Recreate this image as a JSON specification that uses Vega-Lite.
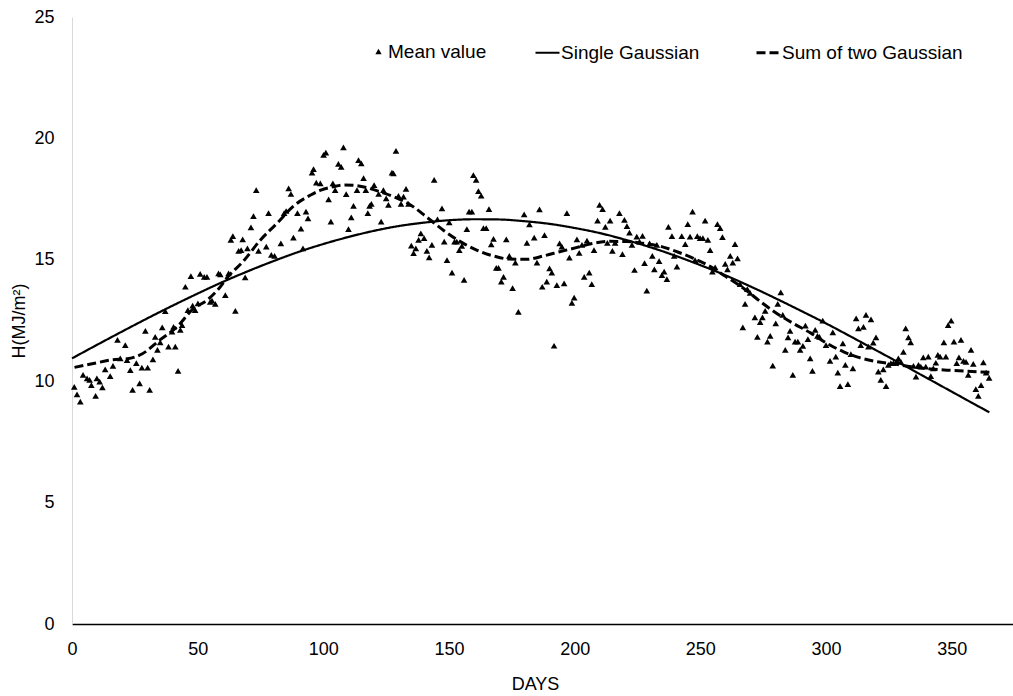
{
  "$schema": "https://vega.github.io/schema/vega-lite/v6.json",
  "width": 941,
  "height": 607,
  "autosize": {"type": "none"},
  "padding": {"left": 72, "top": 17, "right": 0, "bottom": 72},
  "background": "white",
  "config": {
    "view": {"stroke": null},
    "font": "Liberation Sans",
    "axis": {"grid": false, "ticks": false, "labelFont": "Liberation Sans", "labelFontSize": 18, "labelColor": "#000", "titleFont": "Liberation Sans", "titleFontSize": 18, "titleFontWeight": "normal", "titleColor": "#000", "labelFlush": false},
    "legend": {"labelFont": "Liberation Sans", "labelFontSize": 19, "labelColor": "#000", "padding": 0, "labelLimit": 0}
  },
  "datasets": {
    "points": [
      {"day":0.9,"H":9.77},{"day":2.0,"H":9.46},{"day":3.3,"H":9.16},{"day":4.4,"H":10.26},{"day":6.0,"H":10.12},{"day":7.0,"H":10.05},{"day":7.7,"H":9.84},{"day":9.4,"H":9.40},{"day":9.9,"H":10.12},{"day":11.0,"H":9.98},
      {"day":12.1,"H":9.75},{"day":13.2,"H":10.49},{"day":15.2,"H":10.21},{"day":16.3,"H":10.63},{"day":18.1,"H":11.70},{"day":19.2,"H":10.94},{"day":21.2,"H":11.49},{"day":21.9,"H":10.87},{"day":23.2,"H":10.46},{"day":24.1,"H":9.64},
      {"day":25.6,"H":10.74},{"day":26.9,"H":9.91},{"day":27.8,"H":10.56},{"day":29.2,"H":12.07},{"day":30.1,"H":10.56},{"day":30.9,"H":9.64},{"day":32.2,"H":10.90},{"day":33.1,"H":11.83},{"day":34.0,"H":11.29},{"day":35.1,"H":11.60},
      {"day":35.9,"H":12.22},{"day":37.1,"H":12.89},{"day":38.4,"H":11.42},{"day":39.8,"H":12.04},{"day":40.4,"H":12.24},{"day":41.1,"H":11.42},{"day":42.2,"H":10.43},{"day":43.1,"H":12.11},{"day":43.8,"H":12.31},{"day":45.1,"H":13.89},
      {"day":46.1,"H":12.93},{"day":47.3,"H":14.33},{"day":48.0,"H":13.11},{"day":49.0,"H":12.93},{"day":50.1,"H":13.21},{"day":51.0,"H":14.42},{"day":52.6,"H":14.30},{"day":53.7,"H":14.30},{"day":55.0,"H":13.27},{"day":57.0,"H":13.18},
      {"day":58.3,"H":14.44},{"day":55.7,"H":13.32},{"day":61.0,"H":13.55},{"day":65.0,"H":12.90},{"day":59.0,"H":14.40},{"day":62.3,"H":14.44},{"day":68.9,"H":14.28},{"day":63.2,"H":15.82},{"day":64.0,"H":15.98},{"day":67.9,"H":15.84},
      {"day":66.3,"H":15.37},{"day":67.3,"H":15.40},{"day":69.8,"H":15.47},{"day":71.2,"H":16.34},{"day":72.2,"H":16.80},{"day":73.3,"H":17.87},{"day":74.2,"H":15.37},{"day":77.3,"H":15.54},{"day":78.2,"H":16.92},{"day":79.3,"H":15.20},
      {"day":80.6,"H":15.16},{"day":83.1,"H":15.68},{"day":84.4,"H":16.92},{"day":85.2,"H":17.01},{"day":86.2,"H":17.94},{"day":87.1,"H":17.71},{"day":88.1,"H":15.91},{"day":89.7,"H":16.92},{"day":91.1,"H":16.28},{"day":91.9,"H":15.47},
      {"day":93.1,"H":16.98},{"day":93.9,"H":16.71},{"day":95.5,"H":18.59},{"day":96.1,"H":18.73},{"day":97.2,"H":18.18},{"day":98.8,"H":18.15},{"day":100.1,"H":19.32},{"day":101.0,"H":19.41},{"day":102.1,"H":17.49},{"day":103.0,"H":16.57},
      {"day":103.8,"H":18.15},{"day":104.7,"H":17.87},{"day":106.0,"H":18.95},{"day":107.1,"H":18.83},{"day":108.0,"H":19.63},{"day":109.1,"H":17.70},{"day":110.0,"H":16.26},{"day":111.1,"H":16.75},{"day":112.0,"H":17.22},{"day":113.4,"H":17.87},
      {"day":114.0,"H":19.11},{"day":115.1,"H":18.97},{"day":116.0,"H":18.36},{"day":116.9,"H":17.87},{"day":117.7,"H":16.92},{"day":118.4,"H":17.22},{"day":119.1,"H":17.30},{"day":120.2,"H":18.08},{"day":122.0,"H":17.71},{"day":123.0,"H":16.57},
      {"day":123.9,"H":17.87},{"day":125.0,"H":17.53},{"day":125.9,"H":17.26},{"day":127.3,"H":18.59},{"day":127.9,"H":18.56},{"day":128.9,"H":19.49},{"day":129.9,"H":17.63},{"day":130.9,"H":17.30},{"day":131.9,"H":17.60},{"day":132.9,"H":17.92},
      {"day":133.9,"H":17.30},{"day":135.0,"H":15.58},{"day":135.9,"H":15.27},{"day":136.8,"H":15.47},{"day":137.9,"H":15.82},{"day":138.8,"H":16.09},{"day":140.1,"H":15.89},{"day":141.2,"H":15.37},{"day":142.1,"H":15.10},{"day":143.2,"H":15.61},
      {"day":144.1,"H":18.29},{"day":145.4,"H":16.67},{"day":147.2,"H":17.12},{"day":148.1,"H":15.75},{"day":149.2,"H":14.99},{"day":150.1,"H":16.54},{"day":151.2,"H":14.47},{"day":152.2,"H":15.75},{"day":153.1,"H":15.75},{"day":154.1,"H":15.40},
      {"day":155.1,"H":15.57},{"day":156.0,"H":14.17},{"day":157.1,"H":16.26},{"day":158.0,"H":16.98},{"day":159.1,"H":16.98},{"day":159.7,"H":18.49},{"day":160.8,"H":18.29},{"day":161.7,"H":17.83},{"day":162.8,"H":17.64},{"day":163.7,"H":16.30},
      {"day":164.8,"H":16.30},{"day":165.9,"H":17.09},{"day":166.8,"H":15.64},{"day":167.7,"H":15.86},{"day":168.8,"H":14.67},{"day":169.7,"H":14.67},{"day":170.8,"H":14.10},{"day":171.7,"H":14.30},{"day":172.8,"H":15.84},{"day":174.0,"H":15.16},
      {"day":175.3,"H":13.83},{"day":176.4,"H":14.88},{"day":177.6,"H":12.86},{"day":179.9,"H":16.87},{"day":181.0,"H":15.70},{"day":182.0,"H":16.46},{"day":183.9,"H":15.91},{"day":185.0,"H":14.88},{"day":186.0,"H":17.08},{"day":187.1,"H":13.89},
      {"day":188.0,"H":16.02},{"day":188.9,"H":14.10},{"day":190.0,"H":14.65},{"day":190.9,"H":14.47},{"day":191.8,"H":11.46},{"day":192.9,"H":13.96},{"day":194.0,"H":15.68},{"day":194.9,"H":15.54},{"day":195.8,"H":14.03},{"day":196.9,"H":16.92},
      {"day":197.9,"H":15.09},{"day":198.9,"H":13.23},{"day":199.8,"H":13.44},{"day":200.9,"H":15.84},{"day":201.8,"H":15.29},{"day":202.9,"H":15.61},{"day":203.8,"H":14.30},{"day":204.9,"H":15.79},{"day":205.8,"H":14.47},{"day":206.8,"H":14.00},
      {"day":207.7,"H":15.40},{"day":209.1,"H":16.61},{"day":209.9,"H":17.26},{"day":211.1,"H":17.09},{"day":212.2,"H":16.36},{"day":213.0,"H":15.70},{"day":214.1,"H":16.61},{"day":215.0,"H":15.37},{"day":216.1,"H":15.70},{"day":217.8,"H":16.92},
      {"day":219.0,"H":15.23},{"day":219.8,"H":16.64},{"day":220.8,"H":16.39},{"day":221.8,"H":16.12},{"day":222.8,"H":15.61},{"day":223.8,"H":14.58},{"day":224.7,"H":15.95},{"day":225.8,"H":15.75},{"day":227.0,"H":15.99},{"day":227.8,"H":14.86},
      {"day":228.7,"H":13.73},{"day":229.8,"H":15.68},{"day":230.9,"H":15.16},{"day":231.7,"H":14.61},{"day":232.7,"H":15.61},{"day":233.6,"H":14.95},{"day":234.7,"H":14.37},{"day":235.6,"H":14.51},{"day":236.7,"H":14.20},{"day":237.3,"H":16.36},
      {"day":238.7,"H":15.98},{"day":239.6,"H":15.16},{"day":240.7,"H":14.72},{"day":242.6,"H":15.98},{"day":244.0,"H":15.65},{"day":245.0,"H":16.47},{"day":245.9,"H":15.95},{"day":246.9,"H":16.98},{"day":247.9,"H":14.99},{"day":248.8,"H":15.98},
      {"day":249.9,"H":15.89},{"day":251.0,"H":15.89},{"day":251.9,"H":16.61},{"day":253.0,"H":15.82},{"day":253.9,"H":15.40},{"day":254.8,"H":14.51},{"day":255.9,"H":14.69},{"day":256.8,"H":16.47},{"day":257.9,"H":16.30},{"day":258.8,"H":15.93},
      {"day":259.9,"H":14.83},{"day":260.8,"H":14.61},{"day":261.9,"H":15.16},{"day":262.9,"H":14.88},{"day":263.8,"H":15.65},{"day":264.8,"H":15.06},{"day":265.8,"H":14.00},{"day":266.9,"H":12.22},{"day":267.8,"H":13.18},{"day":268.7,"H":13.79},
      {"day":269.8,"H":13.64},{"day":271.7,"H":12.63},{"day":272.7,"H":11.83},{"day":273.8,"H":12.43},{"day":274.7,"H":12.63},{"day":275.8,"H":12.90},{"day":276.7,"H":11.63},{"day":277.8,"H":11.87},{"day":278.8,"H":10.64},{"day":280.0,"H":12.38},
      {"day":280.8,"H":13.18},{"day":282.0,"H":13.66},{"day":282.8,"H":12.73},{"day":283.8,"H":11.29},{"day":284.9,"H":11.81},{"day":285.7,"H":12.07},{"day":286.8,"H":10.26},{"day":287.7,"H":11.63},{"day":288.8,"H":11.63},{"day":289.7,"H":11.29},
      {"day":290.8,"H":11.45},{"day":291.8,"H":12.29},{"day":292.8,"H":11.73},{"day":293.7,"H":10.94},{"day":294.6,"H":10.43},{"day":295.7,"H":12.11},{"day":296.6,"H":11.87},{"day":297.4,"H":11.83},{"day":298.7,"H":12.49},{"day":300.0,"H":11.49},
      {"day":301.6,"H":10.84},{"day":302.7,"H":12.01},{"day":303.9,"H":11.01},{"day":304.7,"H":10.35},{"day":305.6,"H":9.80},{"day":306.7,"H":11.56},{"day":307.7,"H":10.67},{"day":308.7,"H":9.88},{"day":309.9,"H":11.12},{"day":310.7,"H":10.53},
      {"day":312.0,"H":12.59},{"day":312.9,"H":12.18},{"day":313.8,"H":11.49},{"day":314.9,"H":12.24},{"day":315.9,"H":12.73},{"day":316.9,"H":11.42},{"day":317.9,"H":12.55},{"day":318.8,"H":11.59},{"day":319.9,"H":11.81},{"day":320.8,"H":10.39},
      {"day":321.8,"H":10.05},{"day":322.8,"H":10.49},{"day":323.9,"H":9.80},{"day":324.8,"H":10.67},{"day":325.8,"H":10.74},{"day":326.8,"H":10.74},{"day":327.9,"H":10.80},{"day":328.8,"H":10.94},{"day":329.8,"H":10.80},{"day":330.8,"H":11.21},
      {"day":331.7,"H":12.18},{"day":332.8,"H":11.81},{"day":333.7,"H":11.60},{"day":334.8,"H":10.63},{"day":335.8,"H":10.19},{"day":336.8,"H":10.67},{"day":337.7,"H":10.60},{"day":338.7,"H":10.98},{"day":339.7,"H":10.60},{"day":340.7,"H":11.01},
      {"day":341.7,"H":10.21},{"day":342.7,"H":10.53},{"day":343.7,"H":10.76},{"day":344.5,"H":11.08},{"day":345.4,"H":11.01},{"day":346.9,"H":11.60},{"day":347.7,"H":11.01},{"day":348.6,"H":12.31},{"day":349.8,"H":12.49},{"day":350.9,"H":11.63},
      {"day":352.0,"H":10.74},{"day":352.9,"H":10.98},{"day":353.7,"H":11.70},{"day":354.7,"H":10.84},{"day":355.7,"H":10.80},{"day":356.6,"H":10.26},{"day":357.7,"H":11.29},{"day":358.6,"H":10.71},{"day":359.6,"H":9.67},{"day":360.6,"H":9.40},
      {"day":361.7,"H":9.84},{"day":362.6,"H":10.78},{"day":363.7,"H":10.35},{"day":364.9,"H":10.14}
    ],
    "curves": [
      {"series":"Single Gaussian","day":0,"H":10.94},{"series":"Single Gaussian","day":10,"H":11.50},{"series":"Single Gaussian","day":20,"H":12.05},{"series":"Single Gaussian","day":30,"H":12.59},{"series":"Single Gaussian","day":40,"H":13.11},{"series":"Single Gaussian","day":50,"H":13.61},{"series":"Single Gaussian","day":60,"H":14.09},{"series":"Single Gaussian","day":70,"H":14.53},{"series":"Single Gaussian","day":80,"H":14.94},{"series":"Single Gaussian","day":90,"H":15.32},
      {"series":"Single Gaussian","day":100,"H":15.65},{"series":"Single Gaussian","day":110,"H":15.94},{"series":"Single Gaussian","day":120,"H":16.19},{"series":"Single Gaussian","day":130,"H":16.39},{"series":"Single Gaussian","day":140,"H":16.53},{"series":"Single Gaussian","day":150,"H":16.63},{"series":"Single Gaussian","day":160,"H":16.67},{"series":"Single Gaussian","day":170,"H":16.66},{"series":"Single Gaussian","day":180,"H":16.59},{"series":"Single Gaussian","day":190,"H":16.48},
      {"series":"Single Gaussian","day":200,"H":16.31},{"series":"Single Gaussian","day":210,"H":16.10},{"series":"Single Gaussian","day":220,"H":15.83},{"series":"Single Gaussian","day":230,"H":15.52},{"series":"Single Gaussian","day":240,"H":15.17},{"series":"Single Gaussian","day":250,"H":14.78},{"series":"Single Gaussian","day":260,"H":14.36},{"series":"Single Gaussian","day":270,"H":13.90},{"series":"Single Gaussian","day":280,"H":13.41},{"series":"Single Gaussian","day":290,"H":12.90},
      {"series":"Single Gaussian","day":300,"H":12.38},{"series":"Single Gaussian","day":310,"H":11.83},{"series":"Single Gaussian","day":320,"H":11.27},{"series":"Single Gaussian","day":330,"H":10.71},{"series":"Single Gaussian","day":340,"H":10.14},{"series":"Single Gaussian","day":350,"H":9.57},{"series":"Single Gaussian","day":360,"H":9.00},{"series":"Single Gaussian","day":365,"H":8.72},
      {"series":"Sum of two Gaussian","day":1,"H":10.57},{"series":"Sum of two Gaussian","day":9,"H":10.74},{"series":"Sum of two Gaussian","day":16,"H":10.88},{"series":"Sum of two Gaussian","day":22,"H":10.92},{"series":"Sum of two Gaussian","day":28,"H":11.13},{"series":"Sum of two Gaussian","day":35,"H":11.70},{"series":"Sum of two Gaussian","day":42,"H":12.26},{"series":"Sum of two Gaussian","day":48,"H":12.96},{"series":"Sum of two Gaussian","day":54,"H":13.36},{"series":"Sum of two Gaussian","day":58,"H":13.76},
      {"series":"Sum of two Gaussian","day":62,"H":14.30},{"series":"Sum of two Gaussian","day":68,"H":14.92},{"series":"Sum of two Gaussian","day":75,"H":15.82},{"series":"Sum of two Gaussian","day":82,"H":16.55},{"series":"Sum of two Gaussian","day":88,"H":17.20},{"series":"Sum of two Gaussian","day":95,"H":17.67},{"series":"Sum of two Gaussian","day":99,"H":17.87},{"series":"Sum of two Gaussian","day":104,"H":18.01},{"series":"Sum of two Gaussian","day":108,"H":18.08},{"series":"Sum of two Gaussian","day":113,"H":18.06},
      {"series":"Sum of two Gaussian","day":119,"H":17.92},{"series":"Sum of two Gaussian","day":122,"H":17.82},{"series":"Sum of two Gaussian","day":128,"H":17.60},{"series":"Sum of two Gaussian","day":135,"H":17.24},{"series":"Sum of two Gaussian","day":141,"H":16.77},{"series":"Sum of two Gaussian","day":148,"H":16.20},{"series":"Sum of two Gaussian","day":154,"H":15.78},{"series":"Sum of two Gaussian","day":161,"H":15.40},{"series":"Sum of two Gaussian","day":168,"H":15.15},{"series":"Sum of two Gaussian","day":174,"H":15.03},
      {"series":"Sum of two Gaussian","day":181,"H":15.02},{"series":"Sum of two Gaussian","day":188,"H":15.17},{"series":"Sum of two Gaussian","day":194,"H":15.33},{"series":"Sum of two Gaussian","day":201,"H":15.51},{"series":"Sum of two Gaussian","day":207,"H":15.67},{"series":"Sum of two Gaussian","day":214,"H":15.76},{"series":"Sum of two Gaussian","day":221,"H":15.75},{"series":"Sum of two Gaussian","day":227,"H":15.68},{"series":"Sum of two Gaussian","day":234,"H":15.56},{"series":"Sum of two Gaussian","day":241,"H":15.32},
      {"series":"Sum of two Gaussian","day":247,"H":15.07},{"series":"Sum of two Gaussian","day":254,"H":14.72},{"series":"Sum of two Gaussian","day":260,"H":14.32},{"series":"Sum of two Gaussian","day":267,"H":13.84},{"series":"Sum of two Gaussian","day":274,"H":13.27},{"series":"Sum of two Gaussian","day":280,"H":12.82},{"series":"Sum of two Gaussian","day":287,"H":12.38},{"series":"Sum of two Gaussian","day":294,"H":11.98},{"series":"Sum of two Gaussian","day":300,"H":11.58},{"series":"Sum of two Gaussian","day":307,"H":11.21},
      {"series":"Sum of two Gaussian","day":313,"H":10.98},{"series":"Sum of two Gaussian","day":320,"H":10.81},{"series":"Sum of two Gaussian","day":327,"H":10.71},{"series":"Sum of two Gaussian","day":333,"H":10.61},{"series":"Sum of two Gaussian","day":340,"H":10.52},{"series":"Sum of two Gaussian","day":347,"H":10.46},{"series":"Sum of two Gaussian","day":353,"H":10.43},{"series":"Sum of two Gaussian","day":360,"H":10.39},{"series":"Sum of two Gaussian","day":365,"H":10.37}
    ]
  },
  "layer": [
    {
      "data": {"name": "points"},
      "transform": [{"calculate": "'Mean value'", "as": "kind"}],
      "mark": {"type": "point", "filled": true, "color": "#000", "opacity": 1, "size": 44},
      "encoding": {
        "x": {"field": "day", "type": "quantitative", "scale": {"domain": [0, 374.4], "nice": false},
              "axis": {"values": [0, 50, 100, 150, 200, 250, 300, 350], "title": "DAYS", "domainColor": "#000", "domainWidth": 1.5, "labelPadding": 16, "titlePadding": 17, "titleX": 463}},
        "y": {"field": "H", "type": "quantitative", "scale": {"domain": [0, 25], "nice": false},
              "axis": {"values": [0, 5, 10, 15, 20, 25], "title": "H(MJ/m²)", "domainColor": "#d9d9d9", "domainWidth": 1, "labelPadding": 18, "titlePadding": 5}},
        "shape": {"field": "kind", "type": "nominal", "scale": {"domain": ["Mean value"], "range": ["triangle-up"]},
                  "legend": {"title": null, "orient": "none", "legendX": 297, "legendY": 25, "symbolSize": 40, "symbolFillColor": "#000", "symbolStrokeColor": "#000", "labelOffset": 0}}
      }
    },
    {
      "data": {"name": "curves"},
      "mark": {"type": "line", "color": "#000", "interpolate": "monotone"},
      "encoding": {
        "x": {"field": "day", "type": "quantitative"},
        "y": {"field": "H", "type": "quantitative"},
        "detail": {"field": "series"},
        "strokeDash": {"field": "series", "type": "nominal", "scale": {"domain": ["Single Gaussian", "Sum of two Gaussian"], "range": [[1, 0], [9, 4]]},
                       "legend": {"title": null, "orient": "none", "direction": "horizontal", "legendX": 462, "legendY": 22, "symbolType": "stroke", "symbolSize": 576, "symbolStrokeWidth": 2.5, "symbolStrokeColor": "#000", "labelOffset": 0, "columnPadding": 50}},
        "strokeWidth": {"field": "series", "type": "nominal", "scale": {"domain": ["Single Gaussian", "Sum of two Gaussian"], "range": [2.2, 3]}, "legend": null}
      }
    }
  ]
}
